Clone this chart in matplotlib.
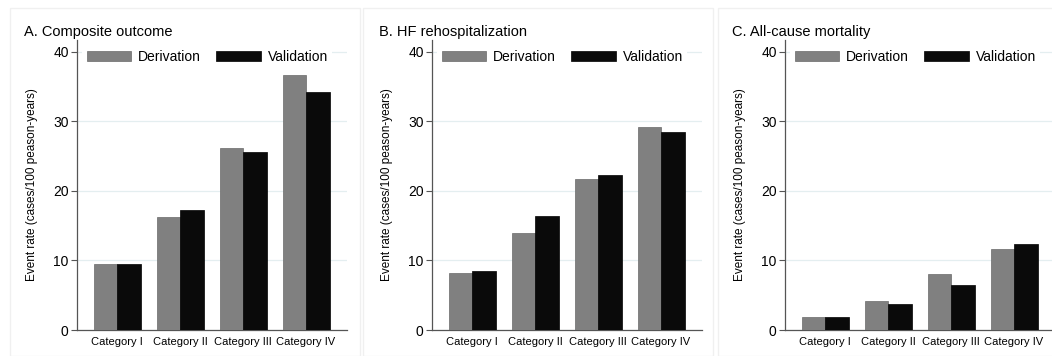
import numpy as np
import matplotlib
matplotlib.use('Agg')
import matplotlib.pyplot as plt
from matplotlib.patches import Rectangle, Patch

plt.rcParams['font.family'] = ['Liberation Sans', 'DejaVu Sans']

# datos
categorias = ['Category I', 'Category II', 'Category III', 'Category IV']
titulos = ['A. Composite outcome', 'B. HF rehospitalization', 'C. All-cause mortality']
derivacion = [
    [9.5, 16.3, 26.2, 36.7],
    [8.2, 14.0, 21.7, 29.2],
    [1.9, 4.2, 8.1, 11.6],
]
validacion = [
    [9.5, 17.2, 25.6, 34.2],
    [8.5, 16.4, 22.3, 28.4],
    [1.9, 3.7, 6.5, 12.3],
]
yticks = [0, 10, 20, 30, 40]

W, H = 1052, 356
fig = plt.figure(figsize=(W / 100, H / 100), dpi=100)

# marcos de cada panel
for x0, w in [(10, 350), (363, 350), (718, 340)]:
    fig.add_artist(Rectangle((x0 / W, 0), w / W, (H - 8) / H, transform=fig.transFigure,
                             fill=False, edgecolor='#f0f0f0', linewidth=1))

lefts = [77, 432, 785]
x = np.arange(len(categorias))
ancho = 0.373
gris_eje = '#555555'

for i in range(3):
    ax = fig.add_axes([lefts[i] / W, 1 - 330 / H, 270 / W, (330 - 40) / H])
    ax.bar(x - ancho / 2, derivacion[i], ancho, color='#808080', edgecolor='#6a6a6a', linewidth=0.5, zorder=3)
    ax.bar(x + ancho / 2, validacion[i], ancho, color='#0a0a0a', edgecolor='#000000', linewidth=0.5, zorder=3)
    ax.set_xlim(-0.635, 3.65)
    ax.set_ylim(0, 41.7)
    ax.set_yticks(yticks)
    ax.set_xticks(x)
    ax.set_xticklabels(categorias, fontsize=8)
    ax.tick_params(axis='x', length=0, pad=5)
    ax.tick_params(axis='y', labelsize=10, length=4, width=0.8, color=gris_eje, pad=2)
    ax.grid(axis='y', color='#e4eef0', linewidth=0.9, zorder=0)
    for s in ['top', 'right']:
        ax.spines[s].set_visible(False)
    for s in ['left', 'bottom']:
        ax.spines[s].set_color(gris_eje)
        ax.spines[s].set_linewidth(0.9)
    ax.set_ylabel('Event rate (cases/100 peason-years)', fontsize=8.5)
    ax.yaxis.set_label_coords(-39 / 270, 0.5)
    handles = [Patch(facecolor='#808080', edgecolor='#6a6a6a', linewidth=0.5, label='Derivation'),
               Patch(facecolor='#0a0a0a', edgecolor='#000000', linewidth=0.5, label='Validation')]
    leg = ax.legend(handles=handles, loc='upper left', bbox_to_anchor=(0.01, 0.99), ncol=2,
                    fontsize=10, frameon=True, facecolor='white', edgecolor='none', framealpha=1,
                    handlelength=3.2, handleheight=0.78, handletextpad=0.5, columnspacing=1.1,
                    borderpad=0.3, borderaxespad=0.2)
    leg.get_frame().set_linewidth(0)
    fig.text((lefts[i] - 53) / W, 1 - 36 / H, titulos[i], fontsize=10.5, ha='left', va='baseline')

plt.savefig('out.png', dpi=100)
